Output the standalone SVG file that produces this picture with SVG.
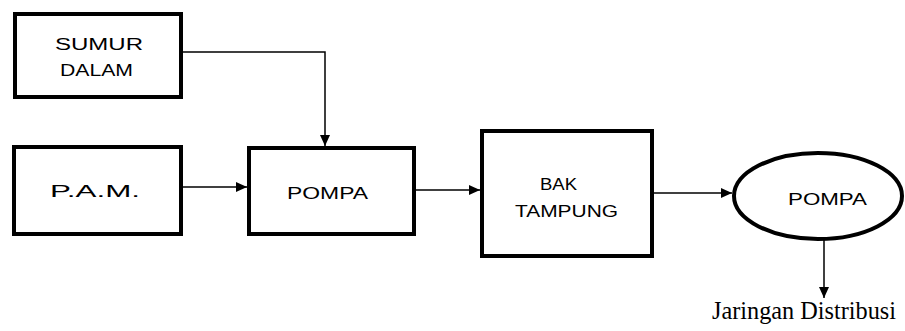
<svg xmlns="http://www.w3.org/2000/svg" width="905" height="331" viewBox="0 0 905 331">
<style>
.box{fill:#fff;stroke:#000;stroke-width:4}
.lbl{font-family:"Liberation Sans",Arial,sans-serif;font-size:16px;fill:#000}
.con{fill:none;stroke:#000;stroke-width:1.5}
.cap{font-family:"Liberation Serif","Times New Roman",serif;font-size:25px;fill:#000}
</style>
<defs>
<marker id="ah" markerWidth="12" markerHeight="12" refX="11" refY="6" orient="auto" markerUnits="userSpaceOnUse">
<path d="M0,1 L11,6 L0,11 Z" fill="#000"/>
</marker>
</defs>
<rect width="905" height="331" fill="#fff"/>
<g id="sumur">
<rect class="box" x="15" y="14" width="166" height="83"/>
<text class="lbl" x="55" y="50" textLength="88" lengthAdjust="spacingAndGlyphs">SUMUR</text>
<text class="lbl" x="60" y="76" textLength="73" lengthAdjust="spacingAndGlyphs">DALAM</text>
</g>
<g id="pam">
<rect class="box" x="14" y="147" width="167" height="87"/>
<text class="lbl" x="50" y="197" textLength="90" lengthAdjust="spacingAndGlyphs">P.A.M.</text>
</g>
<g id="pompa1">
<rect class="box" x="249" y="148" width="165" height="86"/>
<text class="lbl" x="287" y="199" textLength="81" lengthAdjust="spacingAndGlyphs">POMPA</text>
</g>
<g id="bak">
<rect class="box" x="482" y="131" width="170" height="125"/>
<text class="lbl" x="540" y="190" textLength="37" lengthAdjust="spacingAndGlyphs">BAK</text>
<text class="lbl" x="515" y="217" textLength="103" lengthAdjust="spacingAndGlyphs">TAMPUNG</text>
</g>
<g id="pompa2">
<ellipse cx="818" cy="196" rx="84" ry="43" fill="#fff" stroke="#000" stroke-width="4"/>
<text class="lbl" x="788" y="205" textLength="79" lengthAdjust="spacingAndGlyphs">POMPA</text>
</g>
<g id="jaringan">
<text class="cap" x="712" y="319" textLength="184" lengthAdjust="spacingAndGlyphs">Jaringan Distribusi</text>
</g>
<g id="connectors">
<path class="con" d="M183,52 H325 V146" marker-end="url(#ah)"/>
<path class="con" d="M183,187 H247" marker-end="url(#ah)"/>
<path class="con" d="M416,190 H480" marker-end="url(#ah)"/>
<path class="con" d="M654,193 H732" marker-end="url(#ah)"/>
<path class="con" d="M824,239 V298" marker-end="url(#ah)"/>
</g>
</svg>
